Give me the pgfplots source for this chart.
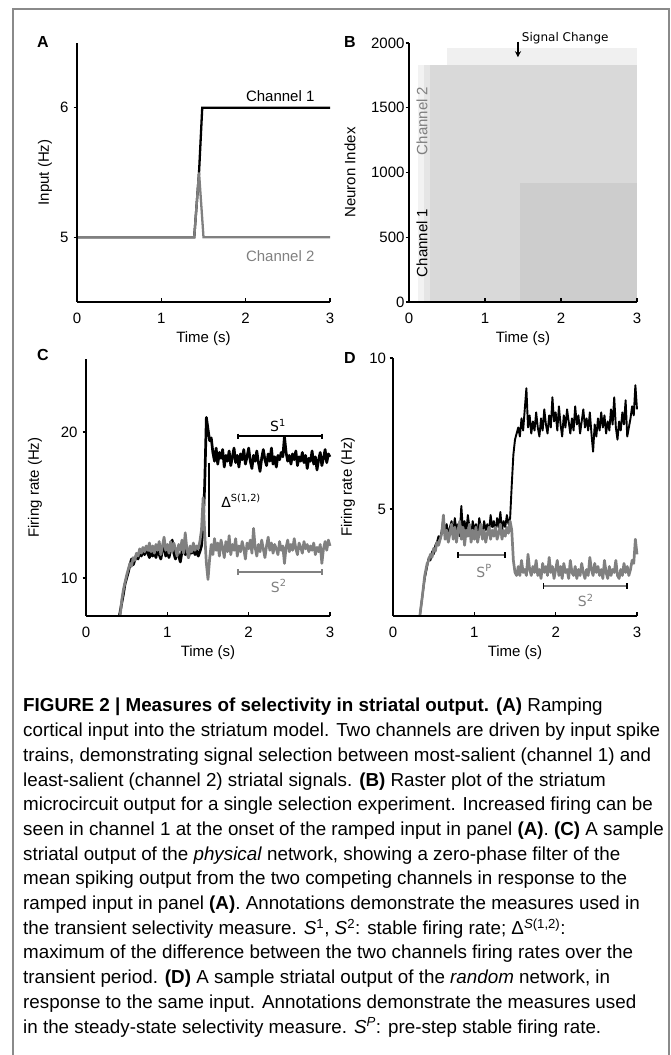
\documentclass[border=0pt]{standalone}
\usepackage{fontspec}
\setmainfont{Liberation Sans}
\newfontfamily\dejavu{DejaVu Sans}
\usepackage{pgfplots}
\pgfplotsset{compat=1.18}
\usetikzlibrary{arrows.meta}
\definecolor{chgray}{HTML}{808080}
\definecolor{framegray}{HTML}{8A8A8A}
\newcommand{\tickfont}{\fontsize{15}{18}\selectfont}
\newcommand{\annfont}{\dejavu\fontsize{14}{16}\selectfont}
\newcommand{\capfont}{\fontsize{18.8}{24.7}\selectfont}
\pgfplotsset{
  panel/.style={
    scale only axis, anchor=south west, clip=false, axis on top,
    axis lines=left, axis line style={line width=2pt, -},
    xmin=0, xmax=3, xtick={0,1,2,3},
    tick style={line width=1.2pt, black}, major tick length=3.5pt, tick align=inside,
    ytick style={xshift=-3.5pt},
    ticklabel style={font=\tickfont},
    xticklabel style={anchor=base, yshift=-21.5pt},
    yticklabel style={anchor=east},
    label style={font=\tickfont},
    xlabel style={at={(axis description cs:0.5,0)}, anchor=center, yshift=-37pt},
    scaled ticks=false,
    /pgf/number format/1000 sep={},
    /pgf/number format/assume math mode=true,
  }
}
\newcommand{\capline}[2]{\node[anchor=base west, inner sep=0pt, font=\capfont] at (23,#1) {#2};}
\begin{document}
\begin{tikzpicture}[x=1pt,y=1pt]
\useasboundingbox (0,0) rectangle (671,1055);
\draw[framegray, line width=1.5pt] (13,0) -- (13,1046) -- (669,1046) -- (669,0);

% ---------------- Panel A
\begin{axis}[panel, at={(77pt,753pt)}, width=253pt, height=259pt,
  ymin=4.5, ymax=6.5, ytick={5,6}, yticklabel style={xshift=-5pt},
  xlabel={Time (s)}, ylabel={Input (Hz)},
  ylabel style={at={(axis description cs:-0.1265,0.5)}, anchor=center}]
\addplot[black, line width=2.3pt] coordinates {(0,5)(1.39,5)(1.447,5.5)(1.485,6)(3,6)};
\addplot[chgray, line width=2.3pt] coordinates {(0,5)(1.39,5)(1.447,5.5)(1.5,5)(3,5)};
\node[font=\tickfont] at (axis cs:2.41,6.09) {Channel 1};
\node[font=\tickfont, text=chgray] at (axis cs:2.41,4.853) {Channel 2};
\end{axis}

% ---------------- Panel B
\begin{axis}[panel, at={(409pt,753pt)}, width=228pt, height=259pt,
  ymin=0, ymax=2000, ytick={0,500,1000,1500,2000}, yticklabel style={xshift=-1pt},
  xlabel={Time (s)}, ylabel={Neuron Index},
  ylabel style={at={(axis description cs:-0.259,0.5)}, anchor=center}]
\addplot[draw=none, fill=gray!12] coordinates {(0.5,1962)(3,1962)} \closedcycle;
\addplot[draw=none, fill=gray!10] coordinates {(0.12,1830)(0.3,1830)} \closedcycle;
\addplot[draw=none, fill=gray!20] coordinates {(0.2,1830)(0.3,1830)} \closedcycle;
\addplot[draw=none, fill=gray!30] coordinates {(0.28,1830)(3,1830)} \closedcycle;
\addplot[draw=none, fill=gray!39] coordinates {(1.46,915)(3,915)} \closedcycle;
\node[anchor=west, font=\dejavu\fontsize{12}{14}\selectfont] at (axis cs:1.44,2040) {Signal Change};
\draw[-{Stealth[length=6pt,width=6pt]}, line width=1.5pt] (axis cs:1.434,2010) -- (axis cs:1.434,1890);
\node[rotate=90, font=\tickfont, text=chgray] at (axis cs:0.17,1398) {Channel 2};
\node[rotate=90, font=\tickfont] at (axis cs:0.17,456) {Channel 1};
\end{axis}

% ---------------- Panel C
\begin{axis}[panel, at={(86pt,439pt)}, width=244pt, height=257pt,
  ymin=7.4, ymax=25, ytick={10,20}, yticklabel style={xshift=-5pt},
  xlabel={Time (s)}, ylabel={Firing rate (Hz)},
  ylabel style={at={(axis description cs:-0.209,0.5)}, anchor=center}]
\addplot[black, line width=2.7pt, line join=round] coordinates {
(0.41,7.4)(0.44,8.3)(0.46,8.9)(0.48,9.6)(0.50,10.0)(0.52,10.4)(0.54,10.9)(0.56,11.3)(0.58,10.9)(0.60,11.2)
(0.62,11.6)(0.64,11.3)(0.66,11.8)(0.68,11.5)(0.70,11.9)(0.72,11.6)(0.74,12.0)(0.76,11.7)(0.78,11.4)(0.80,11.9)
(0.82,11.5)(0.84,11.8)(0.86,11.4)(0.88,12.1)(0.90,11.6)(0.92,11.3)(0.94,11.9)(0.96,12.4)(0.98,11.5)(1.00,12.0)
(1.02,11.4)(1.04,11.9)(1.06,12.6)(1.08,11.7)(1.10,11.3)(1.12,12.0)(1.14,11.5)(1.16,11.1)(1.18,11.8)(1.20,12.2)
(1.22,11.6)(1.24,12.0)(1.26,11.4)(1.28,11.9)(1.30,11.7)(1.32,12.1)(1.34,11.6)(1.36,11.9)(1.38,11.5)(1.40,11.8)
(1.42,12.2)(1.44,13.5)(1.46,16.5)(1.48,21.0)(1.50,20.2)(1.52,19.4)(1.54,19.6)(1.56,18.6)(1.58,18.0)(1.60,18.9)
(1.62,17.8)(1.64,18.6)(1.66,18.2)(1.68,18.8)(1.70,17.6)(1.72,18.4)(1.74,18.0)(1.76,18.7)(1.78,17.7)(1.80,18.3)
(1.82,18.9)(1.84,17.9)(1.86,18.4)(1.88,17.6)(1.90,18.5)(1.92,18.1)(1.94,18.8)(1.96,17.8)(1.98,18.3)(2.00,18.9)
(2.02,18.0)(2.04,17.5)(2.06,18.4)(2.08,18.0)(2.10,18.7)(2.12,17.9)(2.14,17.3)(2.16,18.2)(2.18,18.8)(2.20,18.1)
(2.22,17.7)(2.24,18.5)(2.26,18.0)(2.28,18.9)(2.30,17.8)(2.32,18.3)(2.34,17.6)(2.36,18.4)(2.38,18.1)(2.40,18.6)
(2.42,18.3)(2.44,19.7)(2.46,18.6)(2.48,18.0)(2.50,18.4)(2.52,17.8)(2.54,18.5)(2.56,18.1)(2.58,18.7)(2.60,17.7)
(2.62,18.3)(2.64,18.0)(2.66,18.6)(2.68,17.9)(2.70,18.4)(2.72,17.5)(2.74,18.2)(2.76,18.0)(2.78,18.7)(2.80,17.8)
(2.82,18.3)(2.84,17.4)(2.86,18.1)(2.88,18.6)(2.90,17.7)(2.92,18.2)(2.94,18.8)(2.96,17.9)(2.98,18.5)(3.00,18.3)};
\addplot[chgray, line width=2.7pt, line join=round] coordinates {
(0.42,7.4)(0.44,8.5)(0.46,9.2)(0.48,9.7)(0.50,10.2)(0.52,10.6)(0.54,11.0)(0.56,10.8)(0.58,11.4)(0.60,11.2)
(0.62,11.7)(0.64,11.5)(0.66,12.0)(0.68,11.7)(0.70,12.1)(0.72,11.8)(0.74,12.2)(0.76,11.9)(0.78,12.4)(0.80,11.8)
(0.82,12.2)(0.84,11.7)(0.86,12.3)(0.88,11.9)(0.90,12.5)(0.92,11.6)(0.94,12.2)(0.96,12.8)(0.98,11.9)(1.00,12.3)
(1.02,11.7)(1.04,12.5)(1.06,11.8)(1.08,12.4)(1.10,12.0)(1.12,11.5)(1.14,12.3)(1.16,11.9)(1.18,12.6)(1.20,11.7)
(1.22,13.1)(1.24,12.0)(1.26,11.4)(1.28,12.2)(1.30,11.8)(1.32,12.4)(1.34,11.9)(1.36,12.2)(1.38,12.0)(1.40,12.5)
(1.42,13.3)(1.44,15.5)(1.46,13.0)(1.48,11.0)(1.50,9.9)(1.52,11.3)(1.54,12.3)(1.56,11.6)(1.58,12.7)(1.60,11.9)
(1.62,12.4)(1.64,11.5)(1.66,12.6)(1.68,12.1)(1.70,11.4)(1.72,12.5)(1.74,11.8)(1.76,12.9)(1.78,11.6)(1.80,12.3)
(1.82,11.9)(1.84,12.7)(1.86,11.5)(1.88,12.2)(1.90,11.8)(1.92,12.5)(1.94,12.0)(1.96,11.3)(1.98,12.4)(2.00,12.0)
(2.02,12.6)(2.04,11.7)(2.06,13.4)(2.08,12.1)(2.10,11.5)(2.12,12.3)(2.14,11.8)(2.16,12.6)(2.18,12.0)(2.20,11.4)
(2.22,12.2)(2.24,12.8)(2.26,11.9)(2.28,12.4)(2.30,11.7)(2.32,12.3)(2.34,12.0)(2.36,11.6)(2.38,12.5)(2.40,11.9)
(2.42,12.2)(2.44,11.0)(2.46,12.1)(2.48,12.6)(2.50,11.8)(2.52,12.3)(2.54,11.9)(2.56,12.7)(2.58,12.0)(2.60,11.6)
(2.62,12.4)(2.64,12.1)(2.66,11.7)(2.68,12.5)(2.70,12.0)(2.72,12.3)(2.74,11.8)(2.76,12.2)(2.78,11.9)(2.80,12.4)
(2.82,11.6)(2.84,12.1)(2.86,11.8)(2.88,12.3)(2.90,11.0)(2.92,12.0)(2.94,12.5)(2.96,11.9)(2.98,12.6)(3.00,12.2)};
\addplot[black, line width=2pt] coordinates {(1.51,17.9)(1.51,12.8)};
\addplot[black, line width=1.8pt, mark=|, mark size=2.8pt, mark options={line width=1.8pt}] coordinates {(1.87,19.7)(2.9,19.7)};
\addplot[chgray, line width=1.8pt, mark=|, mark size=2.8pt, mark options={line width=1.8pt}] coordinates {(1.87,10.4)(2.9,10.4)};
\node[anchor=base, font=\annfont] at (axis cs:2.36,20.05) {S\textsuperscript{1}};
\node[anchor=base west, font=\annfont] at (axis cs:1.62,14.86) {Δ\textsuperscript{S(1,2)}};
\node[anchor=base, font=\annfont, text=chgray] at (axis cs:2.37,9.04) {S\textsuperscript{2}};
\end{axis}

% ---------------- Panel D
\begin{axis}[panel, at={(393pt,439pt)}, width=244pt, height=258pt,
  ymin=1.46, ymax=10, ytick={5,10}, yticklabel style={xshift=-3.5pt},
  xlabel={Time (s)}, ylabel={Firing rate (Hz)},
  ylabel style={at={(axis description cs:-0.184,0.5)}, anchor=center}]
\addplot[black, line width=1.9pt, line join=round] coordinates {
(0.33,1.46)(0.36,2.1)(0.39,2.7)(0.42,3.1)(0.44,3.4)(0.46,3.3)(0.48,3.6)(0.50,3.5)(0.52,3.8)(0.54,3.9)
(0.56,4.1)(0.58,4.0)(0.60,4.3)(0.62,4.7)(0.64,4.2)(0.66,4.5)(0.68,4.1)(0.70,4.4)(0.72,4.6)(0.74,4.2)
(0.76,4.7)(0.78,4.3)(0.80,4.5)(0.82,4.1)(0.84,5.1)(0.86,4.3)(0.88,4.6)(0.90,4.2)(0.92,4.8)(0.94,4.4)
(0.96,4.1)(0.98,4.6)(1.00,4.3)(1.02,4.5)(1.04,4.1)(1.06,4.7)(1.08,4.4)(1.10,4.2)(1.12,4.6)(1.14,4.3)
(1.16,4.5)(1.18,4.2)(1.20,4.8)(1.22,4.4)(1.24,4.6)(1.26,4.2)(1.28,4.7)(1.30,4.4)(1.32,4.9)(1.34,4.3)
(1.36,4.6)(1.38,4.4)(1.40,4.8)(1.42,4.5)(1.44,4.7)(1.46,5.8)(1.48,6.8)(1.50,7.3)(1.52,7.5)(1.54,7.7)
(1.56,7.4)(1.58,8.0)(1.60,7.6)(1.62,8.3)(1.64,9.0)(1.66,7.7)(1.68,8.1)(1.70,7.5)(1.72,7.9)(1.74,7.6)
(1.76,8.2)(1.78,7.7)(1.80,7.4)(1.82,8.0)(1.84,7.6)(1.86,8.3)(1.88,7.8)(1.90,7.5)(1.92,8.1)(1.94,7.7)
(1.96,8.7)(1.98,7.9)(2.00,8.2)(2.02,7.6)(2.04,8.4)(2.06,7.8)(2.08,7.4)(2.10,8.1)(2.12,7.7)(2.14,8.3)
(2.16,7.9)(2.18,7.5)(2.20,8.0)(2.22,7.6)(2.24,8.4)(2.26,7.8)(2.28,8.1)(2.30,7.5)(2.32,7.9)(2.34,8.3)
(2.36,7.7)(2.38,8.0)(2.40,7.6)(2.42,8.2)(2.44,7.5)(2.46,6.9)(2.48,7.8)(2.50,7.4)(2.52,8.0)(2.54,7.6)
(2.56,8.2)(2.58,7.7)(2.60,8.1)(2.62,7.5)(2.64,7.9)(2.66,7.6)(2.68,8.3)(2.70,7.8)(2.72,8.7)(2.74,7.7)
(2.76,7.3)(2.78,7.9)(2.80,7.6)(2.82,8.2)(2.84,7.8)(2.86,8.6)(2.88,7.4)(2.90,7.7)(2.92,8.0)(2.94,8.4)
(2.96,8.1)(2.98,9.1)(3.00,8.3)};
\addplot[chgray, line width=2.7pt, line join=round] coordinates {
(0.33,1.46)(0.36,2.1)(0.39,2.8)(0.42,3.2)(0.44,3.3)(0.46,3.5)(0.48,3.4)(0.50,3.7)(0.52,3.6)(0.54,3.9)
(0.56,3.8)(0.58,4.0)(0.60,4.2)(0.62,4.8)(0.64,4.0)(0.66,4.3)(0.68,3.9)(0.70,4.2)(0.72,4.5)(0.74,4.0)
(0.76,4.4)(0.78,3.9)(0.80,4.3)(0.82,4.6)(0.84,4.0)(0.86,4.4)(0.88,3.8)(0.90,4.3)(0.92,4.1)(0.94,4.5)
(0.96,3.9)(0.98,4.3)(1.00,4.0)(1.02,4.4)(1.04,3.9)(1.06,4.2)(1.08,4.5)(1.10,4.0)(1.12,4.3)(1.14,3.9)
(1.16,4.2)(1.18,4.4)(1.20,4.0)(1.22,4.3)(1.24,4.1)(1.26,4.4)(1.28,4.0)(1.30,4.2)(1.32,4.5)(1.34,4.0)
(1.36,4.3)(1.38,4.1)(1.40,4.4)(1.42,4.2)(1.44,4.6)(1.46,4.3)(1.48,3.3)(1.50,2.9)(1.52,2.8)(1.54,3.1)
(1.56,2.8)(1.58,3.3)(1.60,2.9)(1.62,3.0)(1.64,2.8)(1.66,3.5)(1.68,3.0)(1.70,2.8)(1.72,3.1)(1.74,2.9)
(1.76,3.3)(1.78,2.8)(1.80,3.0)(1.82,2.7)(1.84,3.2)(1.86,2.9)(1.88,3.1)(1.90,2.8)(1.92,3.4)(1.94,2.9)
(1.96,3.1)(1.98,2.7)(2.00,3.0)(2.02,3.3)(2.04,2.8)(2.06,3.1)(2.08,2.7)(2.10,3.2)(2.12,2.9)(2.14,3.0)
(2.16,2.7)(2.18,3.3)(2.20,2.9)(2.22,2.8)(2.24,3.1)(2.26,2.7)(2.28,3.0)(2.30,2.8)(2.32,3.2)(2.34,2.9)
(2.36,2.7)(2.38,3.0)(2.40,2.8)(2.42,3.4)(2.44,3.0)(2.46,2.8)(2.48,3.2)(2.50,2.9)(2.52,3.1)(2.54,2.8)
(2.56,3.0)(2.58,2.7)(2.60,3.3)(2.62,2.9)(2.64,2.7)(2.66,3.1)(2.68,2.8)(2.70,3.0)(2.72,2.9)(2.74,3.3)
(2.76,2.8)(2.78,2.7)(2.80,3.0)(2.82,2.8)(2.84,3.2)(2.86,2.9)(2.88,3.1)(2.90,2.8)(2.92,3.0)(2.94,3.3)
(2.96,3.2)(2.98,4.0)(3.00,3.5)};
\addplot[chgray, line width=1.8pt, mark=|, mark size=2.8pt, mark options={line width=1.8pt, black}] coordinates {(0.8,3.48)(1.38,3.48)};
\addplot[chgray, line width=1.8pt, mark=|, mark size=2.8pt, mark options={line width=1.8pt, black}] coordinates {(1.85,2.45)(2.88,2.45)};
\node[anchor=base, font=\annfont, text=chgray] at (axis cs:1.12,2.75) {S\textsuperscript{P}};
\node[anchor=base, font=\annfont, text=chgray] at (axis cs:2.37,1.76) {S\textsuperscript{2}};
\end{axis}

% panel letters
\node[font=\bfseries\fontsize{16}{18}\selectfont] at (43,1013) {A};
\node[font=\bfseries\fontsize{16}{18}\selectfont] at (350,1013) {B};
\node[font=\bfseries\fontsize{16}{18}\selectfont] at (43,700) {C};
\node[font=\bfseries\fontsize{16}{18}\selectfont] at (350,697) {D};

% caption
\capline{343}{\textbf{FIGURE 2 | Measures of selectivity in striatal output. (A)} Ramping}
\capline{318.3}{cortical input into the striatum model. Two channels are driven by input spike}
\capline{293.6}{trains, demonstrating signal selection between most-salient (channel 1) and}
\capline{268.9}{least-salient (channel 2) striatal signals. \textbf{(B)} Raster plot of the striatum}
\capline{244.2}{microcircuit output for a single selection experiment. Increased firing can be}
\capline{219.5}{seen in channel 1 at the onset of the ramped input in panel \textbf{(A)}. \textbf{(C)} A sample}
\capline{194.8}{striatal output of the \textit{physical} network, showing a zero-phase filter of the}
\capline{170.1}{mean spiking output from the two competing channels in response to the}
\capline{145.4}{ramped input in panel \textbf{(A)}. Annotations demonstrate the measures used in}
\capline{120.7}{the transient selectivity measure. \textit{S}\textsuperscript{1}, \textit{S}\textsuperscript{2}: stable firing rate; Δ\textsuperscript{\textit{S}(1,2)}:}
\capline{96.0}{maximum of the difference between the two channels firing rates over the}
\capline{71.3}{transient period. \textbf{(D)} A sample striatal output of the \textit{random} network, in}
\capline{46.6}{response to the same input. Annotations demonstrate the measures used}
\capline{21.9}{in the steady-state selectivity measure. \textit{S}\textsuperscript{\textit{P}}: pre-step stable firing rate.}
\end{tikzpicture}
\end{document}
